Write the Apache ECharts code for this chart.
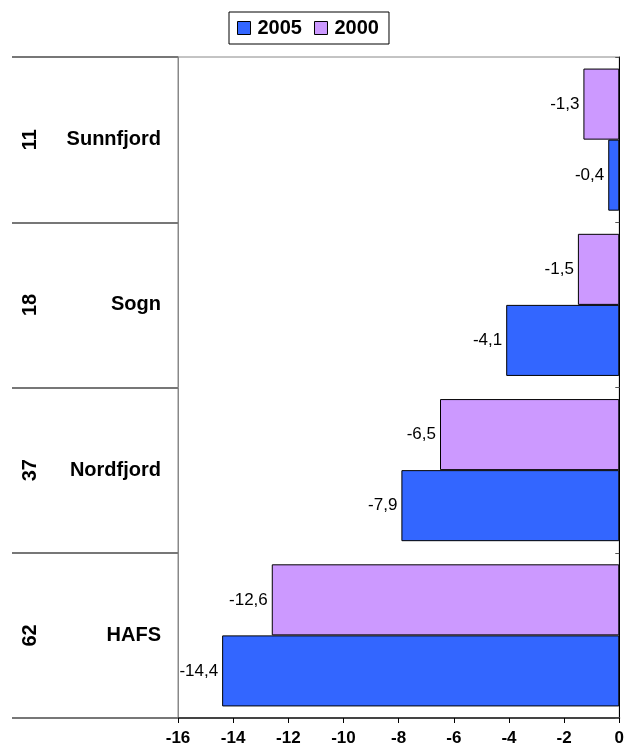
<!DOCTYPE html>
<html>
<head>
<meta charset="utf-8">
<script src="https://cdn.jsdelivr.net/npm/echarts@6/dist/echarts.min.js"></script>
<style>
html,body{margin:0;padding:0;background:#fff;}
#c{width:627px;height:751px;}
</style>
</head>
<body>
<div id="c"></div>
<script>
const categories = ['Sunnfjord', 'Sogn', 'Nordfjord', 'HAFS'];
const counts = ['11', '18', '37', '62'];
const values2000 = [-1.3, -1.5, -6.5, -12.6];
const values2005 = [-0.4, -4.1, -7.9, -14.4];
const xTicks = { min: -16, max: 0, interval: 2 };

const chart = echarts.init(document.getElementById('c'), null, { renderer: 'canvas' });
const FONT = 'Arial, "Liberation Sans", sans-serif';
const labelFmt = p => String(p.value).replace('.', ',');

chart.setOption({
  animation: false,
  backgroundColor: '#fff',
  legend: {
    data: ['2005', '2000'],
    top: 12,
    left: 229,
    itemWidth: 13,
    itemHeight: 13,
    itemGap: 12,
    padding: [6, 10, 6, 8],
    borderColor: '#000',
    borderWidth: 1,
    icon: 'rect',
    itemStyle: { borderColor: '#000', borderWidth: 1 },
    textStyle: { fontFamily: FONT, fontWeight: 'bold', fontSize: 20, color: '#000', padding: [0, 0, 0, 2] }
  },
  grid: { left: 178, right: 7, top: 57, bottom: 33, show: true, borderColor: '#888', borderWidth: 1 },
  xAxis: {
    type: 'value',
    min: xTicks.min, max: xTicks.max, interval: xTicks.interval,
    axisLine: { show: true, lineStyle: { color: '#444', width: 2 } },
    axisTick: { show: true, length: 5, lineStyle: { color: '#000' } },
    splitLine: { show: false },
    axisLabel: { fontFamily: FONT, fontWeight: 'bold', fontSize: 17, color: '#000', margin: 12 }
  },
  yAxis: [
    {
      type: 'category', data: categories, inverse: true, position: 'right',
      axisLine: { show: true, onZero: false, lineStyle: { color: '#000', width: 1 } },
      axisTick: { show: true, inside: true, length: 4, lineStyle: { color: '#555' } },
      axisLabel: { show: false }
    },
    {
      type: 'category', data: categories, inverse: true, position: 'left',
      axisLine: { show: true, onZero: false, lineStyle: { color: '#888', width: 1 } },
      axisTick: { show: true, length: 166, lineStyle: { color: '#777', width: 2 } },
      axisLabel: { fontFamily: FONT, fontWeight: 'bold', fontSize: 20, color: '#000', margin: 17 }
    },
    {
      type: 'category', data: counts, inverse: true, position: 'left',
      axisLine: { show: false, onZero: false }, axisTick: { show: false },
      axisLabel: { rotate: 90, fontFamily: FONT, fontWeight: 'bold', fontSize: 20, color: '#000', margin: 138 }
    }
  ],
  series: [
    {
      name: '2000', type: 'bar', data: values2000, yAxisIndex: 0,
      barCategoryGap: '14%', barGap: '0%',
      itemStyle: { color: '#CC99FF', borderColor: '#000', borderWidth: 1 },
      label: { show: true, position: 'left', distance: 4, formatter: labelFmt, fontFamily: FONT, fontSize: 17, color: '#000' }
    },
    {
      name: '2005', type: 'bar', data: values2005, yAxisIndex: 0,
      barCategoryGap: '14%', barGap: '0%',
      itemStyle: { color: '#3366FF', borderColor: '#000', borderWidth: 1 },
      label: { show: true, position: 'left', distance: 4, formatter: labelFmt, fontFamily: FONT, fontSize: 17, color: '#000' }
    }
  ]
});
</script>
</body>
</html>
